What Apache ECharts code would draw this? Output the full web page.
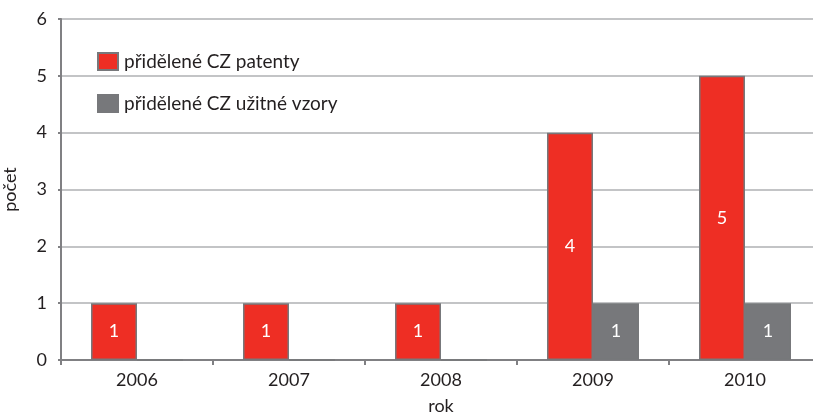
<!DOCTYPE html>
<html>
<head>
<meta charset="utf-8">
<script src="https://cdn.jsdelivr.net/npm/echarts@6/dist/echarts.min.js"></script>
<style>
  html, body { margin: 0; padding: 0; background: #fff; }
  #chart { width: 813px; height: 413px; }
</style>
</head>
<body>
<div id="chart"></div>
<script>
// data
const years = ["2006", "2007", "2008", "2009", "2010"];
const patenty = [1, 1, 1, 4, 5];
const uzitneVzory = [0, 0, 0, 1, 1];
const seriesNames = ["přidělené CZ patenty", "přidělené CZ užitné vzory"];

const FONT = "Lato";
const textColor = "#231f20";
const axisGrey = "#808083";

const chart = echarts.init(document.getElementById("chart"));

const option = {
  animation: false,
  textStyle: { fontFamily: FONT },
  grid: {
    left: 61,
    top: 19,
    right: -8,
    bottom: 53,
    outerBoundsMode: "none",
    containLabel: false,
    show: true,
    borderColor: axisGrey,
    borderWidth: 2,
  },
  legend: {
    orient: "vertical",
    left: 92,
    top: 47,
    icon: "rect",
    itemWidth: 20,
    itemHeight: 17,
    itemGap: 23,
    textStyle: { fontSize: 19, color: textColor, fontFamily: FONT, padding: [0, 0, 0, 1] },
    data: seriesNames,
  },
  xAxis: {
    type: "category",
    data: years,
    name: "rok",
    nameLocation: "middle",
    nameGap: 37,
    nameTextStyle: { fontSize: 18, color: textColor },
    axisLine: { lineStyle: { color: axisGrey, width: 2 } },
    axisTick: { show: true, length: 5, lineStyle: { color: axisGrey, width: 2 } },
    axisLabel: { fontSize: 18, color: textColor, margin: 11 },
  },
  yAxis: {
    type: "value",
    min: 0,
    max: 6,
    interval: 1,
    name: "počet",
    nameLocation: "middle",
    nameGap: 42,
    nameTextStyle: { fontSize: 18, color: textColor },
    axisLine: { show: true, lineStyle: { color: axisGrey, width: 2 } },
    axisTick: { show: true, length: 3, lineStyle: { color: axisGrey, width: 2 } },
    axisLabel: { fontSize: 18, color: textColor, margin: 14 },
    splitLine: { lineStyle: { color: "#c3c4c6", width: 2 } },
  },
  series: [
    {
      name: seriesNames[0],
      type: "bar",
      data: patenty,
      barWidth: 46,
      barGap: "0%",
      itemStyle: { color: "#ee2e24", borderColor: "#77787b", borderWidth: 1.5 },
      label: {
        show: true,
        position: "inside",
        color: "#fff",
        fontSize: 18,
        fontFamily: FONT,
      },
    },
    {
      name: seriesNames[1],
      type: "bar",
      data: uzitneVzory,
      barWidth: 46,
      barGap: "0%",
      itemStyle: { color: "#77787b", borderColor: "#77787b", borderWidth: 1.5 },
      label: {
        show: true,
        position: "inside",
        color: "#fff",
        fontSize: 18,
        fontFamily: FONT,
        formatter: (p) => (p.value ? p.value : ""),
      },
    },
  ],
};

chart.setOption(option);
</script>
</body>
</html>
